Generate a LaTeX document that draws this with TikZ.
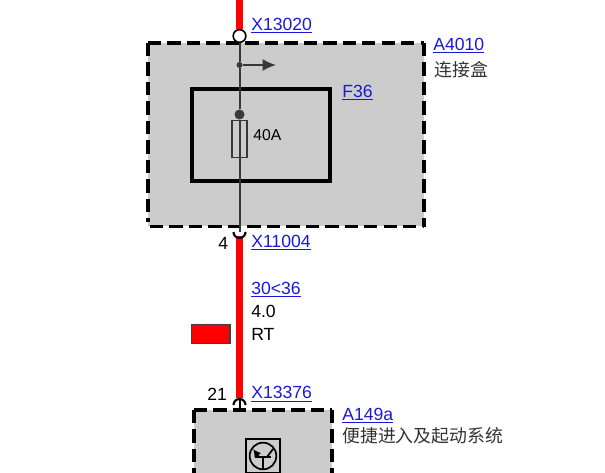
\documentclass[tikz,border=0pt]{standalone}
\usepackage{fontspec}
\setmainfont{Liberation Sans}
\newfontfamily\cjk{Noto Sans CJK SC}
\usetikzlibrary{arrows.meta}
\definecolor{boxgray}{RGB}{204,204,204}
\definecolor{linkblue}{RGB}{25,25,215}
\definecolor{wiregray}{RGB}{56,56,56}
\tikzset{
	module/.style   = {draw, line width = 2.7pt, dash pattern = on 10pt off 4.6pt},
	inner/.style    = {draw, line width = 2.5pt},
	wire/.style     = {draw = red, line width = 5.2pt},
	thin/.style     = {draw = wiregray, line width = 1.5pt},
	pin/.style      = {draw, fill = white, circle, line width = 1.2pt, minimum size = 9.5pt, inner sep = 0pt},
	dotnode/.style  = {fill = wiregray, circle, inner sep = 0pt},
	label/.style    = {anchor = west, inner sep = 0pt, font = \fontsize{13.2}{15}\selectfont},
	link/.style     = {label, text = linkblue}
}
\newcommand{\ul}[1]{\underline{#1}}

\begin{document}
\begin{tikzpicture}[x=0.75pt, y=-0.75pt, >=latex]
	\useasboundingbox (0,0) rectangle (605,473);
	\clip (0,0) rectangle (605,473);

	% boxes
	\fill[boxgray] (148,43) rectangle (424,226.5);
	\fill[boxgray] (194,410) rectangle (332,490);
	\draw[module] (148,43) -- (424,43) (148,43) -- (148,222) (424,43) -- (424,227) (150,226.5) -- (424,226.5);
	\draw[module] (194,410) -- (332,410) (194,410) -- (194,490) (332,410) -- (332,490);
	\draw[inner] (192,89) rectangle (330,181);

	% points on the line
	\coordinate (top) at (239.5,0);
	\coordinate (mid) at (239.5,232);
	\coordinate (low) at (239.5,398);
	\coordinate (lowbox) at (239.5,410);
	\coordinate (out) at (276,65);
	\node[pin] (x13020) at (239.5,36) {};
	\node[dotnode, minimum size = 4.5pt] (branch) at (239.5,65) {};
	\node[dotnode, minimum size = 7.5pt] (fusetop) at (239.5,114.5) {};
	\node[draw = wiregray, line width = 1.2pt, minimum width = 11pt, minimum height = 28pt, inner sep = 0pt] (fuse) at (239.5,139) {};

	% wires
	\draw[wire] (top) -- (x13020);
	\draw[thin] (x13020) -- (branch);
	\draw[thin] (branch) -- (fusetop);
	\draw[thin] (fusetop) -- (mid);
	\draw[thin, -{Latex[length=10pt, width=9pt]}] (branch) -- (out);
	\draw[wire] (239.5,236) -- (low);
	\draw[thin, black] (low) -- (lowbox);

	% open connector ends
	\draw[line width = 1.6pt] (233.5,232) arc[start angle = 180, end angle = 360, radius = 4.5pt];
	\draw[line width = 1.6pt] (233.5,405) arc[start angle = 180, end angle = 0, radius = 4.5pt];

	% wire colour
	\node[draw = black!75, fill = red, line width = 1pt, minimum width = 29pt, minimum height = 14pt, inner sep = 0pt] (rt) at (210.5,334) {};

	% transistor
	\draw[line width = 1pt] (246,439) rectangle (280,473);
	\draw[line width = 1.3pt] (263,456) circle[radius = 10pt];
	\draw[line width = 1.5pt] (255,457) -- (271,457);
	\draw[line width = 1.3pt] (263,457) -- (263,469);
	\draw[line width = 1.3pt, -{Latex[length=6pt, width=6pt]}] (259,457) -- (253,449);
	\draw[line width = 1.3pt] (267,457) -- (273,449);

	% labels
	\node[link] (l1) at (251,25.5) {\ul{X13020}};
	\node[link] (l2) at (433,46) {\ul{A4010}};
	\node[label, text = black!80, font = \fontsize{13.4}{15}\selectfont] (l3) at (434,70) {\cjk 连接盒};
	\node[link] (l4) at (342,93) {\ul{F36}};
	\node[label, font = \fontsize{11.8}{14}\selectfont] (l5) at (253,135) {40A};
	\node[label] (l6) at (218,243) {4};
	\node[link] (l7) at (251,243) {\ul{X11004}};
	\node[link] (l8) at (251,289.5) {\ul{30<36}};
	\node[label] (l9) at (251,311) {4.0};
	\node[label] (l10) at (251,334) {RT};
	\node[label] (l11) at (207,394) {21};
	\node[link] (l12) at (251,394) {\ul{X13376}};
	\node[link] (l13) at (342,416) {\ul{A149a}};
	\node[label, text = black!80, font = \fontsize{13.4}{15}\selectfont] (l14) at (342,436) {\cjk 便捷进入及起动系统};
\end{tikzpicture}
\end{document}
